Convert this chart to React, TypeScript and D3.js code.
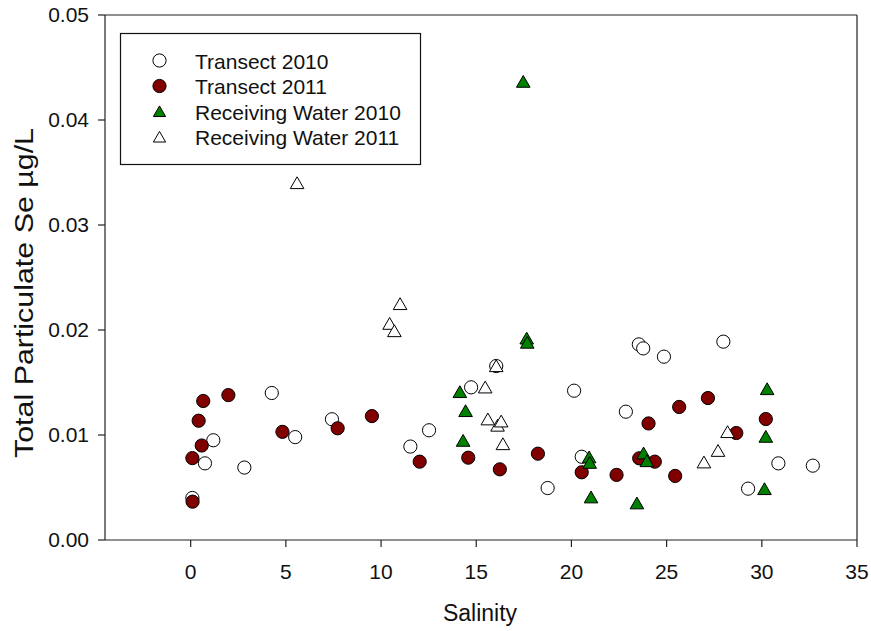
import React from "react";
import * as d3 from "d3";

const W = 871;
const H = 631;

// Transect 2010 (open circles)
const t2010X = [0.09, 0.75, 1.19, 2.82, 4.26, 5.49, 7.42, 11.54, 12.52, 14.73, 16.05, 18.75, 20.14, 20.54, 22.86, 23.54, 23.77, 24.86, 27.98, 29.28, 30.87, 32.68];
const t2010Y = [0.004, 0.0073, 0.0095, 0.0069, 0.014, 0.0098, 0.0115, 0.0089, 0.01045, 0.01454, 0.01657, 0.00495, 0.01422, 0.00793, 0.01222, 0.01863, 0.01825, 0.01746, 0.01889, 0.00489, 0.0073, 0.00708];

// Transect 2011 (dark red circles)
const t2011X = [0.66, 1.98, 0.42, 0.58, 0.09, 0.1, 4.82, 7.72, 9.52, 12.03, 14.58, 16.24, 18.24, 20.54, 22.37, 23.56, 24.05, 24.38, 25.45, 25.66, 27.17, 28.66, 30.21];
const t2011Y = [0.01324, 0.0138, 0.01136, 0.009, 0.0078, 0.00365, 0.0103, 0.01064, 0.0118, 0.00746, 0.00784, 0.00673, 0.00822, 0.00645, 0.0062, 0.00778, 0.0111, 0.00746, 0.0061, 0.01267, 0.01352, 0.01019, 0.01152];

// Receiving Water 2010 (green triangles)
const rw2010X = [14.14, 14.44, 14.31, 17.47, 17.65, 17.68, 20.93, 20.96, 21.03, 23.44, 23.79, 23.96, 30.14, 30.21, 30.28];
const rw2010Y = [0.0141, 0.01229, 0.00946, 0.04365, 0.0192, 0.0188, 0.00788, 0.00736, 0.00407, 0.0035, 0.00826, 0.00752, 0.00486, 0.00984, 0.01438];

// Receiving Water 2011 (open triangles)
const rw2011X = [5.59, 10.45, 10.7, 11.0, 15.47, 15.61, 16.05, 16.12, 16.31, 16.4, 26.96, 27.7, 28.2];
const rw2011Y = [0.034, 0.0206, 0.0199, 0.02248, 0.01454, 0.0115, 0.01657, 0.0109, 0.0113, 0.00914, 0.0074, 0.0085, 0.01029];

const xTicks = [0, 5, 10, 15, 20, 25, 30, 35];
const yTicks = [0, 0.01, 0.02, 0.03, 0.04, 0.05];

const seriesNames = ["Transect 2010", "Transect 2011", "Receiving Water 2010", "Receiving Water 2011"];

const RED = "#800000";
const GREEN = "#008000";

const series = [
  { name: seriesNames[0], xs: t2010X, ys: t2010Y, shape: "circle", fill: "#ffffff" },
  { name: seriesNames[1], xs: t2011X, ys: t2011Y, shape: "circle", fill: RED },
  { name: seriesNames[2], xs: rw2010X, ys: rw2010Y, shape: "triangle", fill: GREEN },
  { name: seriesNames[3], xs: rw2011X, ys: rw2011Y, shape: "triangle", fill: "#ffffff" },
];

const left = 105;
const right = 857;
const top = 15;
const bottom = 540;

const x = d3.scaleLinear().domain([-4.5, 35]).range([left, right]);
const y = d3.scaleLinear().domain([0, 0.05]).range([bottom, top]);

const tri = (cx: number, cy: number, s = 1) => {
  const hw = 6.8 * s;
  const up = 6.2 * s;
  const dn = 5.6 * s;
  return `M${cx},${cy - up}L${cx + hw},${cy + dn}L${cx - hw},${cy + dn}Z`;
};

function Marker({ shape, cx, cy, fill, s = 1 }: { shape: string; cx: number; cy: number; fill: string; s?: number }) {
  if (shape === "circle") {
    return <circle cx={cx} cy={cy} r={6.6 * s} fill={fill} stroke="#000" strokeWidth={1} />;
  }
  return <path d={tri(cx, cy, s)} fill={fill} stroke="#000" strokeWidth={1} strokeLinejoin="miter" />;
}

export default function App() {
  const font = "Arial, 'Liberation Sans', Helvetica, sans-serif";
  const axisColor = "#222";
  return (
    <div style={{ position: "fixed", left: 0, top: 0 }}>
      <svg width={W} height={H} style={{ display: "block", background: "#fff" }} fontFamily={font}>
        <rect x={0} y={0} width={W} height={H} fill="#fff" />
        {/* frame */}
        <line x1={left} y1={top} x2={right} y2={top} stroke={axisColor} strokeWidth={1.2} />
        <line x1={right} y1={top} x2={right} y2={bottom} stroke={axisColor} strokeWidth={1.2} />
        <line x1={left} y1={top} x2={left} y2={bottom} stroke={axisColor} strokeWidth={1.2} />
        <line x1={left} y1={bottom} x2={right} y2={bottom} stroke={axisColor} strokeWidth={1.2} />
        {/* y ticks */}
        {yTicks.map((t) => (
          <g key={"y" + t}>
            <line x1={left - 7} x2={left} y1={y(t)} y2={y(t)} stroke={axisColor} strokeWidth={1.2} />
            <text x={89} y={y(t) + 7} textAnchor="end" fontSize={21} fill="#111">
              {d3.format(".2f")(t)}
            </text>
          </g>
        ))}
        {/* x ticks */}
        {xTicks.map((t) => (
          <g key={"x" + t}>
            <line x1={x(t)} x2={x(t)} y1={bottom} y2={bottom + 7} stroke={axisColor} strokeWidth={1.2} />
            <text x={x(t)} y={579} textAnchor="middle" fontSize={21} fill="#111">
              {t}
            </text>
          </g>
        ))}
        {/* titles */}
        <text x={480} y={621} textAnchor="middle" fontSize={23} fill="#111">
          Salinity
        </text>
        <text
          transform={`translate(33,293) rotate(-90)`}
          textAnchor="middle"
          fontSize={25}
          fill="#111"
          textLength={330}
          lengthAdjust="spacingAndGlyphs"
        >
          Total Particulate Se µg/L
        </text>
        {/* data */}
        {series.map((s) => (
          <g key={s.name}>
            {s.xs.map((v, i) => (
              <Marker key={i} shape={s.shape} cx={x(v)} cy={y(s.ys[i])} fill={s.fill} />
            ))}
          </g>
        ))}
        {/* legend */}
        <rect x={120.5} y={33.5} width={300} height={131} fill="#fff" stroke="#111" strokeWidth={1.2} />
        {series.map((s, i) => {
          const cy = 60.5 + i * 25.5;
          return (
            <g key={"lg" + s.name}>
              <Marker shape={s.shape} cx={159.5} cy={cy} fill={s.fill} s={s.shape === "triangle" ? 0.9 : 1} />
              <text x={195} y={cy + 8} fontSize={21} fill="#111">
                {s.name}
              </text>
            </g>
          );
        })}
      </svg>
    </div>
  );
}
